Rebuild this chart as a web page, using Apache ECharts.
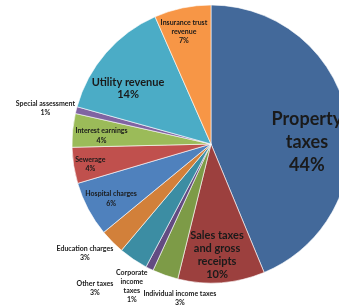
<!DOCTYPE html>
<html><head><meta charset="utf-8">
<script src="https://cdn.jsdelivr.net/npm/echarts@6/dist/echarts.min.js"></script>
<style>html,body{margin:0;padding:0;background:#fff}#c{width:339px;height:307px}</style>
</head><body><div id="c"></div>
<script>
// ---- data ----
var categories = ['Property taxes','Sales taxes and gross receipts','Individual income taxes','Corporate income taxes','Other taxes','Education charges','Hospital charges','Sewerage','Interest earnings','Special assessment','Utility revenue','Insurance trust revenue'];
var values = [43.8, 10.1, 3.0, 0.9, 3.4, 2.9, 6.4, 4.2, 3.9, 0.8, 14.1, 6.6];
var labelNames = ['Property\ntaxes','Sales taxes\nand gross\nreceipts','Individual income taxes','Corporate\nincome\ntaxes','Other taxes','Education charges','Hospital charges','Sewerage','Interest earnings','Special assessment','Utility revenue','Insurance trust\nrevenue'];

// ---- styles ----
var colors = ['#43699a','#9c403e','#7d9b47','#634b82','#3c8da3','#d2803a','#4f81bd','#c0504d','#9bbb59','#8064a2','#4bacc6','#f79646'];
var fontSizes = [18, 11, 7, 7, 7, 7, 7, 7, 7, 7, 11, 7];
var lineHeights = [23, 13, 9, 9, 9, 9, 10, 9, 10, 9, 12, 9];
var labelRadiusFrac = [0.69, 0.80, 1.13, 1.17, 1.33, 1.20, 0.82, 0.88, 0.79, 1.22, 0.72, 0.83];
var labelAngleShift = [10, 1.2, -7.8, 2.9, 4.9, 3.8, -0.8, -0.5, -1.4, -1.8, -6.9, -1.7];
var CX = 211, CY = 144, R = 139;

var total = values.reduce(function(a,b){return a+b;},0);
var midAngles = [];
var acc = 0;
values.forEach(function(v){ midAngles.push((acc + v/2)/total*360); acc += v; });

var chart = echarts.init(document.getElementById('c'), null, {renderer:'canvas'});
chart.setOption({
  animation: false,
  series: [{
    type: 'pie',
    center: [CX, CY],
    radius: [0, R],
    startAngle: 90,
    clockwise: true,
    avoidLabelOverlap: false,
    labelLine: {show: false},
    data: categories.map(function(c, i){
      return {
        name: c, value: values[i],
        itemStyle: {color: colors[i], borderColor: '#ffffff', borderWidth: 0.6},
        label: {fontSize: fontSizes[i], lineHeight: lineHeights[i]}
      };
    }),
    label: {
      show: true, position: 'outside',
      fontFamily: 'Lato', fontWeight: 'bold', color: '#1a1a1a',
      align: 'center',
      formatter: function(p){ return labelNames[p.dataIndex] + '\n' + Math.round(p.percent) + '%'; }
    },
    labelLayout: function(p){
      var i = p.dataIndex;
      var a = (midAngles[i] + labelAngleShift[i]) * Math.PI / 180;
      var d = labelRadiusFrac[i] * R;
      return { x: CX + d*Math.sin(a), y: CY - d*Math.cos(a), align: 'center', verticalAlign: 'middle' };
    }
  }]
});
</script>
</body></html>
